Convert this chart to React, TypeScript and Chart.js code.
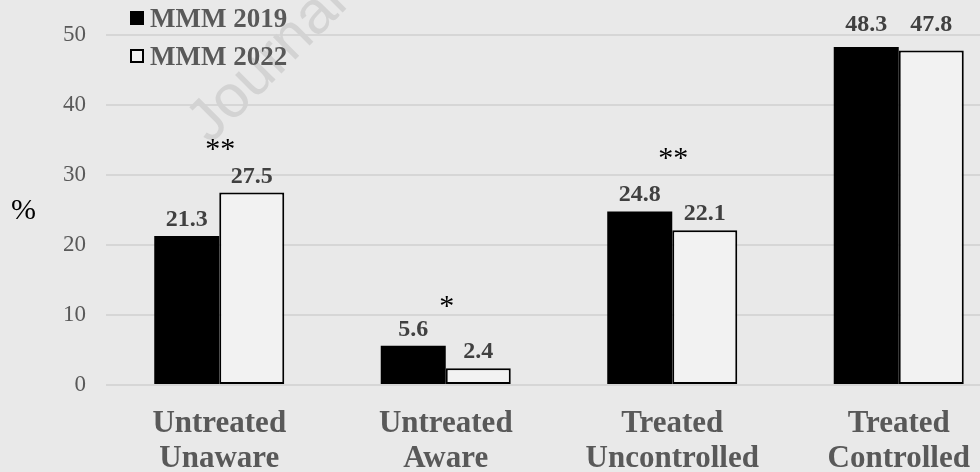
import React, { useEffect, useRef } from "react";
import { Chart, registerables } from "chart.js";

Chart.register(...registerables);

// ---- data ----
const categories: string[][] = [
  ["Untreated", "Unaware"],
  ["Untreated", "Aware"],
  ["Treated", "Uncontrolled"],
  ["Treated", "Controlled"],
];
const seriesNames = ["MMM 2019", "MMM 2022"];
const mmm2019 = [21.3, 5.6, 24.8, 48.3];
const mmm2022 = [27.5, 2.4, 22.1, 47.8];
const significance = ["**", "*", "**", ""];
const yMin = 0;
const yMax = 50;
const yStep = 10;
const yAxisTitle = "%";
const watermarkText = "Journal Pre-proof";

const SERIF = '"Liberation Serif", "Times New Roman", serif';
const BG = "#e9e9e9";
// vertical lift (px) of the significance markers above the taller bar of each group
const MARKER_LIFT = [35, 31, 44, 0];

const overlayPlugin = {
  id: "overlay",
  beforeDatasetsDraw(chart: any) {
    const ctx = chart.ctx;
    ctx.save();
    ctx.translate(210, 145);
    ctx.rotate(-Math.PI / 4);
    ctx.font = '60px "Liberation Sans", Arial, sans-serif';
    ctx.fillStyle = "#d3d3d3";
    ctx.textAlign = "left";
    ctx.textBaseline = "alphabetic";
    ctx.fillText(watermarkText, 0, 0);
    ctx.restore();
  },
  afterDatasetsDraw(chart: any) {
    const ctx = chart.ctx;
    const area = chart.chartArea;
    ctx.save();
    // data labels
    ctx.font = `bold 24px ${SERIF}`;
    ctx.fillStyle = "#404040";
    ctx.textAlign = "center";
    ctx.textBaseline = "alphabetic";
    chart.data.datasets.forEach((ds: any, di: number) => {
      const meta = chart.getDatasetMeta(di);
      meta.data.forEach((bar: any, i: number) => {
        const v = ds.data[i] as number;
        let y = bar.y - 10;
        if (y < area.top + 20) y = area.top - 4;
        ctx.fillText(v.toFixed(1), bar.x, y);
      });
    });
    // significance markers
    const m0 = chart.getDatasetMeta(0);
    const m1 = chart.getDatasetMeta(1);
    ctx.font = `30px ${SERIF}`;
    ctx.fillStyle = "#000000";
    significance.forEach((s, i) => {
      if (!s) return;
      const top = Math.min(m0.data[i].y, m1.data[i].y);
      const x = chart.scales.x.getPixelForValue(i) + 1;
      ctx.fillText(s, x, top - MARKER_LIFT[i]);
    });
    // y axis title (horizontal)
    ctx.font = `30px ${SERIF}`;
    ctx.textAlign = "left";
    ctx.fillText(yAxisTitle, 11, 219);
    // legend
    const colors = [
      { fill: "#000000", stroke: "#000000" },
      { fill: "#f2f2f2", stroke: "#000000" },
    ];
    const legendTops = [11, 49];
    const legendBase = [26.5, 65];
    ctx.font = `bold 27px ${SERIF}`;
    seriesNames.forEach((name, i) => {
      ctx.fillStyle = colors[i].fill;
      ctx.fillRect(130, legendTops[i], 14, 14);
      ctx.strokeStyle = colors[i].stroke;
      ctx.lineWidth = 2;
      ctx.strokeRect(131, legendTops[i] + 1, 12, 12);
      ctx.fillStyle = "#595959";
      ctx.fillText(name, 150, legendBase[i]);
    });
    ctx.restore();
  },
};

export default function App() {
  const ref = useRef<HTMLCanvasElement | null>(null);

  useEffect(() => {
    if (!ref.current) return;
    const chart = new Chart(ref.current, {
      type: "bar",
      data: {
        labels: categories,
        datasets: [
          {
            label: seriesNames[0],
            data: mmm2019,
            backgroundColor: "#000000",
            borderColor: "#000000",
            borderWidth: 0,
            borderSkipped: false,
            categoryPercentage: 0.574,
            barPercentage: 1,
          },
          {
            label: seriesNames[1],
            data: mmm2022,
            backgroundColor: "#f2f2f2",
            borderColor: "#000000",
            borderWidth: 2,
            borderSkipped: false,
            categoryPercentage: 0.574,
            barPercentage: 1,
          },
        ],
      },
      options: {
        responsive: false,
        animation: false,
        devicePixelRatio: 1,
        layout: { padding: { left: 0, right: 0, top: 35, bottom: 0 } },
        plugins: {
          legend: { display: false },
          tooltip: { enabled: false },
        },
        scales: {
          x: {
            grid: { display: false, drawTicks: false },
            border: { display: false },
            ticks: {
              color: "#595959",
              font: { family: SERIF, size: 31, weight: "bold", lineHeight: 1.13 },
              padding: 21,
              maxRotation: 0,
              autoSkip: false,
            },
            afterFit: (s: any) => {
              s.height = 87;
            },
          },
          y: {
            min: yMin,
            max: yMax,
            grid: { color: "#d6d6d6", lineWidth: 2, drawTicks: false },
            border: { display: false },
            ticks: {
              stepSize: yStep,
              color: "#595959",
              font: { family: SERIF, size: 23 },
              padding: 20,
            },
            afterFit: (s: any) => {
              s.width = 106;
            },
          },
        },
      },
      plugins: [overlayPlugin],
    });
    return () => chart.destroy();
  }, []);

  return (
    <div
      style={{
        position: "fixed",
        left: 0,
        top: 0,
        width: 980,
        height: 472,
        overflow: "hidden",
        background: BG,
      }}
    >
      <canvas ref={ref} width={1012} height={472} style={{ display: "block" }} />
    </div>
  );
}
